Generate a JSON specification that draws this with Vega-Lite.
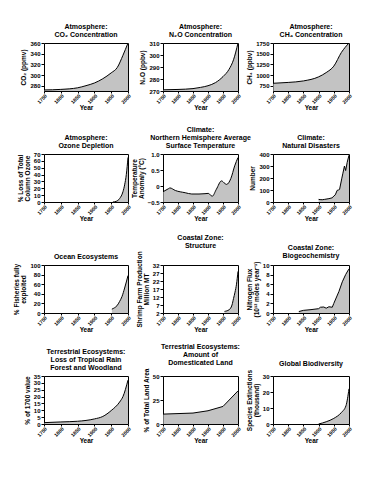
{
  "$schema": "https://vega.github.io/schema/vega-lite/v6.json",
  "background": "white",
  "padding": {"left": 13, "top": 22, "right": 5, "bottom": 5},
  "columns": 3,
  "bounds": "flush",
  "align": "each",
  "spacing": {"row": 63, "column": 35},
  "datasets": {
    "co2": [{"year":1750,"value":272},{"year":1800,"value":273},{"year":1850,"value":276},{"year":1875,"value":280},{"year":1900,"value":285},{"year":1925,"value":293},{"year":1950,"value":304},{"year":1968,"value":314},{"year":1985,"value":337},{"year":2000,"value":360}],
    "n2o": [{"year":1750,"value":271},{"year":1800,"value":271.3},{"year":1850,"value":272},{"year":1875,"value":273},{"year":1900,"value":274.4},{"year":1925,"value":277},{"year":1950,"value":282},{"year":1970,"value":288},{"year":1985,"value":296},{"year":2000,"value":310}],
    "ch4": [{"year":1750,"value":810},{"year":1800,"value":830},{"year":1850,"value":865},{"year":1900,"value":960},{"year":1925,"value":1060},{"year":1950,"value":1210},{"year":1975,"value":1530},{"year":2000,"value":1750}],
    "ozone": [{"year":1955,"value":0},{"year":1965,"value":1},{"year":1975,"value":5},{"year":1985,"value":15},{"year":1990,"value":25},{"year":1995,"value":40},{"year":2000,"value":65}],
    "temp": [{"year":1750,"value":-0.18},{"year":1769,"value":-0.08},{"year":1773,"value":-0.06},{"year":1791,"value":-0.14},{"year":1824,"value":-0.21},{"year":1846,"value":-0.25},{"year":1870,"value":-0.25},{"year":1890,"value":-0.24},{"year":1901,"value":-0.23},{"year":1914,"value":-0.32},{"year":1928,"value":-0.1},{"year":1945,"value":0.16},{"year":1956,"value":0.08},{"year":1962,"value":0.05},{"year":1976,"value":0.23},{"year":1989,"value":0.63},{"year":2000,"value":0.89}],
    "disasters": [{"year":1900,"value":22},{"year":1905,"value":20},{"year":1912,"value":19},{"year":1920,"value":22},{"year":1934,"value":28},{"year":1945,"value":35},{"year":1950,"value":50},{"year":1955,"value":60},{"year":1961,"value":97},{"year":1965,"value":100},{"year":1969,"value":105},{"year":1976,"value":193},{"year":1980,"value":240},{"year":1985,"value":300},{"year":1989,"value":262},{"year":1994,"value":330},{"year":2000,"value":390}],
    "ocean": [{"year":1952,"value":8},{"year":1960,"value":11},{"year":1967,"value":15},{"year":1975,"value":24},{"year":1982,"value":34},{"year":1990,"value":52},{"year":2000,"value":78}],
    "shrimp": [{"year":1955,"value":3},{"year":1970,"value":4},{"year":1980,"value":7},{"year":1985,"value":11},{"year":1990,"value":15},{"year":1995,"value":20},{"year":2000,"value":28}],
    "nitrogen": [{"year":1835,"value":0.3},{"year":1850,"value":0.55},{"year":1875,"value":0.7},{"year":1900,"value":0.9},{"year":1906,"value":1.2},{"year":1917,"value":1.25},{"year":1925,"value":1.0},{"year":1934,"value":1.3},{"year":1945,"value":1.2},{"year":1950,"value":2},{"year":1967,"value":4.5},{"year":1978,"value":6.5},{"year":1989,"value":8},{"year":1998,"value":9},{"year":2000,"value":9.2}],
    "tropical": [{"year":1750,"value":1},{"year":1800,"value":1.5},{"year":1850,"value":2},{"year":1900,"value":3.7},{"year":1925,"value":5.5},{"year":1950,"value":9.8},{"year":1975,"value":16},{"year":1985,"value":20},{"year":2000,"value":32}],
    "land": [{"year":1750,"value":10.3},{"year":1850,"value":11.4},{"year":1900,"value":13.8},{"year":1950,"value":18.3},{"year":2000,"value":34.5}],
    "biodiv": [{"year":1900,"value":0},{"year":1925,"value":1.4},{"year":1950,"value":3.5},{"year":1975,"value":7.2},{"year":1990,"value":11.4},{"year":2000,"value":22}]
  },
  "concat": [
    {"width":84,"height":48,"title":{"text":["Atmosphere:","CO₂ Concentration"]},"data":{"name":"co2"},
     "mark":{"type":"area","orient":"vertical","clip":true,"color":"#aaaaaa","interpolate":"monotone","line":{"color":"black","strokeWidth":1}},
     "encoding":{"x":{"field":"year","type":"quantitative","scale":{"domain":[1750,2000]},"axis":{"values":[1750,1800,1850,1900,1950,2000],"format":"d","title":"Year"}},
       "y":{"field":"value","type":"quantitative","stack":null,"scale":{"domain":[270,360],"nice":false,"zero":false},"axis":{"values":[280,300,320,340,360],"format":"d","title":"CO₂ (ppmv)"}},
       "y2":{"datum":270}}},
    {"width":75,"height":48,"title":{"text":["Atmosphere:","N₂O Concentration"]},"data":{"name":"n2o"},
     "mark":{"type":"area","orient":"vertical","clip":true,"color":"#aaaaaa","interpolate":"monotone","line":{"color":"black","strokeWidth":1}},
     "encoding":{"x":{"field":"year","type":"quantitative","scale":{"domain":[1750,2000]},"axis":{"values":[1750,1800,1850,1900,1950,2000],"format":"d","title":"Year"}},
       "y":{"field":"value","type":"quantitative","stack":null,"scale":{"domain":[270,310],"nice":false,"zero":false},"axis":{"values":[270,280,290,300,310],"format":"d","title":"N₂O (ppbv)"}},
       "y2":{"datum":270}}},
    {"width":76,"height":48,"title":{"text":["Atmosphere:","CH₄ Concentration"]},"data":{"name":"ch4"},
     "mark":{"type":"area","orient":"vertical","clip":true,"color":"#aaaaaa","interpolate":"monotone","line":{"color":"black","strokeWidth":1}},
     "encoding":{"x":{"field":"year","type":"quantitative","scale":{"domain":[1750,2000]},"axis":{"values":[1750,1800,1850,1900,1950,2000],"format":"d","title":"Year"}},
       "y":{"field":"value","type":"quantitative","stack":null,"scale":{"domain":[630,1750],"nice":false,"zero":false},"axis":{"values":[750,1000,1250,1500,1750],"format":"d","title":"CH₄ (ppbv)"}},
       "y2":{"datum":630}}},
    {"width":84,"height":48,"title":{"text":["Atmosphere:","Ozone Depletion"]},"data":{"name":"ozone"},
     "mark":{"type":"area","orient":"vertical","clip":true,"color":"#aaaaaa","interpolate":"monotone","line":{"color":"black","strokeWidth":1}},
     "encoding":{"x":{"field":"year","type":"quantitative","scale":{"domain":[1750,2000]},"axis":{"values":[1750,1800,1850,1900,1950,2000],"format":"d","title":"Year"}},
       "y":{"field":"value","type":"quantitative","stack":null,"scale":{"domain":[0,70],"nice":false},"axis":{"values":[0,10,20,30,40,50,60,70],"format":"d","title":["% Loss of Total","Column Ozone"]}},
       "y2":{"datum":0}}},
    {"width":75,"height":48,"title":{"text":["Climate:","Northern Hemisphere Average","Surface Temperature"]},"data":{"name":"temp"},
     "mark":{"type":"area","orient":"vertical","clip":true,"color":"#aaaaaa","interpolate":"monotone","line":{"color":"black","strokeWidth":1}},
     "encoding":{"x":{"field":"year","type":"quantitative","scale":{"domain":[1750,2000]},"axis":{"values":[1750,1800,1850,1900,1950,2000],"format":"d","title":"Year"}},
       "y":{"field":"value","type":"quantitative","stack":null,"scale":{"domain":[-0.5,1.0],"nice":false,"zero":false},"axis":{"values":[-0.5,0,0.5,1.0],"labelExpr":"datum.value == 0 ? '0' : format(datum.value, '.1f')","title":["Temperature","Anomaly (°C)"]}},
       "y2":{"datum":-0.5}}},
    {"width":76,"height":48,"title":{"text":["Climate:","Natural Disasters"]},"data":{"name":"disasters"},
     "mark":{"type":"area","orient":"vertical","clip":true,"color":"#aaaaaa","interpolate":"linear","line":{"color":"black","strokeWidth":1}},
     "encoding":{"x":{"field":"year","type":"quantitative","scale":{"domain":[1750,2000]},"axis":{"values":[1750,1800,1850,1900,1950,2000],"format":"d","title":"Year"}},
       "y":{"field":"value","type":"quantitative","stack":null,"scale":{"domain":[0,400],"nice":false},"axis":{"values":[0,100,200,300,400],"format":"d","title":"Number"}},
       "y2":{"datum":0}}},
    {"width":84,"height":48,"title":{"text":"Ocean Ecosystems"},"data":{"name":"ocean"},
     "mark":{"type":"area","orient":"vertical","clip":true,"color":"#aaaaaa","interpolate":"monotone","line":{"color":"black","strokeWidth":1}},
     "encoding":{"x":{"field":"year","type":"quantitative","scale":{"domain":[1750,2000]},"axis":{"values":[1750,1800,1850,1900,1950,2000],"format":"d","title":"Year"}},
       "y":{"field":"value","type":"quantitative","stack":null,"scale":{"domain":[0,100],"nice":false},"axis":{"values":[0,20,40,60,80,100],"format":"d","title":["% Fisheries fully","exploited"]}},
       "y2":{"datum":0}}},
    {"width":75,"height":48,"title":{"text":["Coastal Zone:","Structure"]},"data":{"name":"shrimp"},
     "mark":{"type":"area","orient":"vertical","clip":true,"color":"#aaaaaa","interpolate":"monotone","line":{"color":"black","strokeWidth":1}},
     "encoding":{"x":{"field":"year","type":"quantitative","scale":{"domain":[1750,2000]},"axis":{"values":[1750,1800,1850,1900,1950,2000],"format":"d","title":"Year"}},
       "y":{"field":"value","type":"quantitative","stack":null,"scale":{"domain":[2,32],"nice":false,"zero":false},"axis":{"values":[2,7,12,17,22,27,32],"format":"d","title":["Shrimp Farm Production","Million MT"]}},
       "y2":{"datum":2}}},
    {"width":76,"height":48,"title":{"text":["Coastal Zone:","Biogeochemistry"]},"data":{"name":"nitrogen"},
     "mark":{"type":"area","orient":"vertical","clip":true,"color":"#aaaaaa","interpolate":"linear","line":{"color":"black","strokeWidth":1}},
     "encoding":{"x":{"field":"year","type":"quantitative","scale":{"domain":[1750,2000]},"axis":{"values":[1750,1800,1850,1900,1950,2000],"format":"d","title":"Year"}},
       "y":{"field":"value","type":"quantitative","stack":null,"scale":{"domain":[0,10],"nice":false},"axis":{"values":[0,2,4,6,8,10],"format":"d","title":["Nitrogen Flux","(10¹² moles year⁻¹)"]}},
       "y2":{"datum":0}}},
    {"width":84,"height":48,"title":{"text":["Terrestrial Ecosystems:","Loss of Tropical Rain","Forest and Woodland"]},"data":{"name":"tropical"},
     "mark":{"type":"area","orient":"vertical","clip":true,"color":"#aaaaaa","interpolate":"monotone","line":{"color":"black","strokeWidth":1}},
     "encoding":{"x":{"field":"year","type":"quantitative","scale":{"domain":[1750,2000]},"axis":{"values":[1750,1800,1850,1900,1950,2000],"format":"d","title":"Year"}},
       "y":{"field":"value","type":"quantitative","stack":null,"scale":{"domain":[0,35],"nice":false},"axis":{"values":[0,5,10,15,20,25,30,35],"format":"d","title":"% of 1700 value"}},
       "y2":{"datum":0}}},
    {"width":75,"height":48,"title":{"text":["Terrestrial Ecosystems:","Amount of","Domesticated Land"]},"data":{"name":"land"},
     "mark":{"type":"area","orient":"vertical","clip":true,"color":"#aaaaaa","interpolate":"linear","line":{"color":"black","strokeWidth":1}},
     "encoding":{"x":{"field":"year","type":"quantitative","scale":{"domain":[1750,2000]},"axis":{"values":[1750,1800,1850,1900,1950,2000],"format":"d","title":"Year"}},
       "y":{"field":"value","type":"quantitative","stack":null,"scale":{"domain":[0,50],"nice":false},"axis":{"values":[0,25,50],"format":"d","title":"% of Total Land Area"}},
       "y2":{"datum":0}}},
    {"width":76,"height":48,"title":{"text":"Global Biodiversity"},"data":{"name":"biodiv"},
     "mark":{"type":"area","orient":"vertical","clip":true,"color":"#aaaaaa","interpolate":"monotone","line":{"color":"black","strokeWidth":1}},
     "encoding":{"x":{"field":"year","type":"quantitative","scale":{"domain":[1750,2000]},"axis":{"values":[1750,1800,1850,1900,1950,2000],"format":"d","title":"Year"}},
       "y":{"field":"value","type":"quantitative","stack":null,"scale":{"domain":[0,30],"nice":false},"axis":{"values":[0,10,20,30],"format":"d","title":["Species Extinctions","(thousand)"]}},
       "y2":{"datum":0}}}
  ],
  "config": {
    "font": "Liberation Sans",
    "view": {"stroke": "black", "strokeWidth": 1},
    "axis": {"grid": false, "domain": false, "ticks": true, "tickColor": "black", "tickSize": 3, "labelFontSize": 6, "labelFontWeight": "bold", "labelColor": "black", "labelPadding": 1, "labelOverlap": false, "titleFontSize": 6.5, "titleFontWeight": "bold", "titleColor": "black", "titlePadding": 3, "titleLineHeight": 7},
    "axisX": {"labelAngle": -45, "labelFontSize": 5, "labelPadding": 0, "tickSize": 2, "titlePadding": 0},
    "title": {"fontSize": 7, "fontWeight": "bold", "color": "black", "offset": 2, "lineHeight": 8, "anchor": "middle"}
  }
}
